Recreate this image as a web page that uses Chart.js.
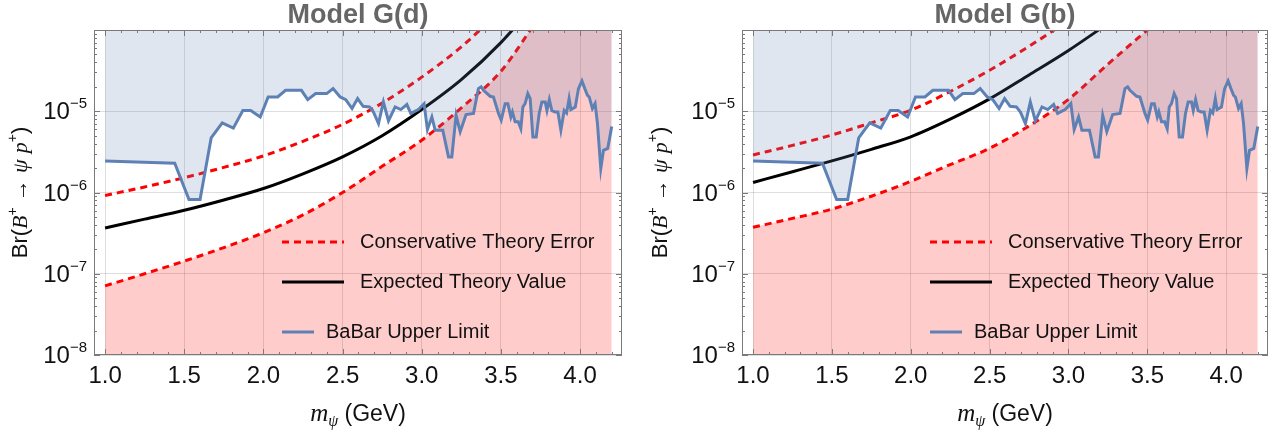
<!DOCTYPE html>
<html>
<head>
<meta charset="utf-8">
<title>Model G(d) / Model G(b)</title>
<script src="https://cdn.jsdelivr.net/npm/chart.js@4.4.1/dist/chart.umd.min.js"></script>
<style>
  body { margin: 0; background: #fff; }
  .painel { position: absolute; top: 0; }
</style>
</head>
<body>
<canvas id="graficoD" class="painel" width="640" height="432" style="left:0px"></canvas>
<canvas id="graficoB" class="painel" width="639" height="432" style="left:640px"></canvas>
<script>
// massas (GeV) onde as curvas teoricas foram lidas
var massas = [1.0, 1.25, 1.5, 1.75, 2.0, 2.25, 2.5, 2.75, 3.0, 3.25, 3.5, 3.75, 4.0, 4.2]

// Model G(d)
var esperado_d = [3.66e-7, 4.7e-7, 6.05e-7, 8.1e-7, 1.12e-6, 1.7e-6, 2.75e-6, 5.0e-6, 1.05e-5, 2.45e-5, 7.0e-5, 2.5e-4]
var erro_sup_d = [9.2e-7, 1.17e-6, 1.52e-6, 2.04e-6, 2.82e-6, 4.27e-6, 6.9e-6, 1.26e-5, 2.63e-5, 6.2e-5, 1.76e-4]
var erro_inf_d = [7.1e-8, 1.0e-7, 1.43e-7, 2.1e-7, 3.2e-7, 5.3e-7, 1.0e-6, 2.1e-6, 4.4e-6, 1.1e-5, 3.1e-5, 1.5e-4, 6e-4, 1.5e-3]

// Model G(b)
var esperado_b = [1.33e-6, 1.8e-6, 2.45e-6, 3.4e-6, 4.85e-6, 8.0e-6, 1.42e-5, 2.8e-5, 5.6e-5, 1.2e-4]
var erro_sup_b = [2.9e-6, 3.8e-6, 5.1e-6, 7.2e-6, 1.03e-5, 1.75e-5, 3.2e-5, 6.3e-5, 1.3e-4]
var erro_inf_b = [3.73e-7, 4.8e-7, 6.25e-7, 9.0e-7, 1.37e-6, 2.2e-6, 3.5e-6, 6.6e-6, 1.4e-5, 3.8e-5, 1.0e-4, 2.6e-4, 6e-4, 1.2e-3]

// limite superior do BaBar (igual nos dois paineis)
var babar_massa = [1.0, 1.44, 1.53, 1.60, 1.67, 1.74, 1.81, 1.87, 1.92, 1.98, 2.03, 2.09, 2.14, 2.24, 2.28, 2.33, 2.40, 2.44, 2.485, 2.52,
    2.56, 2.595, 2.63, 2.67, 2.695, 2.727, 2.758, 2.79, 2.832, 2.868, 2.906, 2.931, 2.979, 3.015, 3.036, 3.064, 3.085, 3.133, 3.169, 3.19,
    3.217, 3.243, 3.28, 3.327, 3.358, 3.375, 3.39, 3.432, 3.453, 3.485, 3.502, 3.527, 3.544, 3.563, 3.573, 3.59, 3.61, 3.626, 3.639, 3.653,
    3.67, 3.685, 3.702, 3.723, 3.742, 3.759, 3.78, 3.791, 3.806, 3.822, 3.843, 3.86, 3.879, 3.9, 3.915, 3.931, 3.942, 3.97, 3.99, 4.012,
    4.03, 4.047, 4.058, 4.078, 4.095, 4.11, 4.131, 4.148, 4.175, 4.2]
var babar_limite = [2.45e-6, 2.29e-6, 8.2e-7, 8.2e-7, 4.7e-6, 7.2e-6, 6.2e-6, 1.02e-5, 1.02e-5, 8.5e-6, 1.5e-5, 1.5e-5, 1.81e-5, 1.81e-5, 1.39e-5, 1.65e-5, 1.65e-5, 1.9e-5, 1.5e-5, 1.39e-5,
    1.08e-5, 1.43e-5, 1.15e-5, 1.13e-5, 9.8e-6, 7.05e-6, 1.3e-5, 7.6e-6, 1.13e-5, 1.05e-5, 1.21e-5, 9.4e-6, 1.05e-5, 1.24e-5, 5.95e-6, 8.5e-6, 5.84e-6, 5.84e-6, 2.74e-6, 2.74e-6,
    8.9e-6, 5.6e-6, 9.1e-6, 9.4e-6, 1.9e-5, 2.0e-5, 1.81e-5, 1.53e-5, 1.5e-5, 9.4e-6, 7.8e-6, 1.24e-5, 1.24e-5, 8.5e-6, 9.8e-6, 7.4e-6, 7.4e-6, 6.1e-6, 1.13e-5, 1.24e-5,
    1.65e-5, 1.43e-5, 4.83e-6, 4.83e-6, 9.4e-6, 1.3e-5, 1.3e-5, 1.02e-5, 1.39e-5, 1.02e-5, 9.8e-6, 9.8e-6, 5.84e-6, 1.02e-5, 9.5e-6, 1.43e-5, 1.05e-5, 1.13e-5, 1.9e-5, 2.36e-5,
    1.9e-5, 1.57e-5, 1.5e-5, 1.08e-5, 1.24e-5, 7.05e-6, 1.97e-6, 3.31e-6, 3.48e-6, 6.5e-6]

// marcas dos eixos
var ticks_x = [1.0, 1.5, 2.0, 2.5, 3.0, 3.5, 4.0]
var decadas_y = [1e-8, 1e-7, 1e-6, 1e-5]

const SANS = '"Liberation Sans", Arial, sans-serif'
const SERIF = '"Liberation Serif", "Times New Roman", serif'
const COR_TEXTO = '#111111'

function pontos(xs, ys) {
    return ys.map(function(y, i) { return { x: xs[i], y: y } })
}

// escreve um texto em pedacos (italico, expoente, indice)
function escreverPartes(ctx, partes, x, y, alinhar) {
    var total = 0
    partes.forEach(function(p) { ctx.font = p.font; total += ctx.measureText(p.t).width })
    var cx = x
    if (alinhar == 'center') cx = x - total / 2
    if (alinhar == 'right') cx = x - total
    ctx.textAlign = 'left'
    ctx.textBaseline = 'alphabetic'
    partes.forEach(function(p) {
        ctx.font = p.font
        ctx.fillText(p.t, cx, y + (p.dy || 0))
        cx += ctx.measureText(p.t).width
    })
}

// moldura, marcas internas, rotulos do eixo y, titulos dos eixos e legenda
const moldura = {
    id: 'moldura',
    afterDraw(chart) {
        const ctx = chart.ctx
        const a = chart.chartArea
        const sx = chart.scales.x
        const sy = chart.scales.y
        ctx.save()
        ctx.strokeStyle = '#7a7a7a'
        ctx.lineWidth = 1
        ctx.strokeRect(a.left + 0.5, a.top + 0.5, a.right - a.left - 1, a.bottom - a.top - 1)

        ctx.beginPath()
        for (var v = 10; v <= 42; v++) {
            var px = Math.round(sx.getPixelForValue(v / 10)) + 0.5
            var len = v % 5 == 0 ? 6 : 3
            ctx.moveTo(px, a.bottom); ctx.lineTo(px, a.bottom - len)
            ctx.moveTo(px, a.top); ctx.lineTo(px, a.top + len)
        }
        for (var n = -8; n <= -5; n++) {
            for (var k = 1; k <= 9; k++) {
                var py = Math.round(sy.getPixelForValue(k * Math.pow(10, n))) + 0.5
                var len = k == 1 ? 6 : 3
                ctx.moveTo(a.left, py); ctx.lineTo(a.left + len, py)
                ctx.moveTo(a.right, py); ctx.lineTo(a.right - len, py)
            }
        }
        ctx.stroke()

        // rotulos 10^n
        ctx.fillStyle = COR_TEXTO
        decadas_y.forEach(function(v) {
            var py = sy.getPixelForValue(v)
            var expo = Math.round(Math.log10(v))
            escreverPartes(ctx, [
                { t: '10', font: '24px ' + SANS },
                { t: '\u2212' + Math.abs(expo), font: '15px ' + SANS, dy: -11 }
            ], a.left - 7, py + 8, 'right')
        })

        // titulo do eixo y
        ctx.save()
        ctx.translate(27, (a.top + a.bottom) / 2)
        ctx.rotate(-Math.PI / 2)
        escreverPartes(ctx, [
            { t: 'Br(', font: '22px ' + SANS },
            { t: 'B', font: 'italic 22px ' + SERIF },
            { t: '+', font: '14px ' + SANS, dy: -10 },
            { t: ' \u2192 ', font: '22px ' + SANS },
            { t: '\u03c8', font: 'italic 22px ' + SERIF },
            { t: ' ', font: '22px ' + SANS },
            { t: 'p', font: 'italic 22px ' + SERIF },
            { t: '+', font: '14px ' + SANS, dy: -10 },
            { t: ')', font: '22px ' + SANS }
        ], 0, 0, 'center')
        ctx.restore()

        // titulo do eixo x
        escreverPartes(ctx, [
            { t: 'm', font: 'italic 25px ' + SERIF },
            { t: '\u03c8', font: 'italic 16px ' + SERIF, dy: 5 },
            { t: ' (GeV)', font: '23px ' + SANS }
        ], (a.left + a.right) / 2, 421, 'center')

        // legenda dentro do grafico
        const ds = chart.data.datasets
        const itens = [
            { d: ds[1], y: 212, x0: 188, x1: 250, tx: 266 },
            { d: ds[2], y: 252, x0: 188, x1: 250, tx: 266 },
            { d: ds[0], y: 302, x0: 188, x1: 220, tx: 232 }
        ]
        itens.forEach(function(it) {
            ctx.beginPath()
            ctx.strokeStyle = it.d.borderColor
            ctx.lineWidth = it.d.borderWidth
            ctx.setLineDash(it.d.borderDash || [])
            ctx.moveTo(a.left + it.x0, a.top + it.y)
            ctx.lineTo(a.left + it.x1, a.top + it.y)
            ctx.stroke()
            ctx.setLineDash([])
            ctx.fillStyle = COR_TEXTO
            ctx.font = '20px ' + SANS
            ctx.textAlign = 'left'
            ctx.textBaseline = 'middle'
            ctx.fillText(it.d.label, a.left + it.tx, a.top + it.y)
        })
        ctx.restore()
    }
}

function criarGrafico(id, titulo, esperado, erro_sup, erro_inf, largura_y, margem_dir) {
    const ctx = document.getElementById(id).getContext('2d')
    return new Chart(ctx, {
        type: 'line',
        data: {
            datasets: [{
                label: 'BaBar Upper Limit',
                data: pontos(babar_massa, babar_limite),
                borderColor: '#5e81b5',
                borderWidth: 3,
                backgroundColor: 'rgba(94, 129, 181, 0.2)',
                fill: 'end',
                pointRadius: 0,
                tension: 0
            }, {
                label: 'Conservative Theory Error',
                data: pontos(massas, erro_sup),
                borderColor: '#ff0000',
                borderWidth: 3,
                borderDash: [7, 5],
                fill: false,
                pointRadius: 0,
                cubicInterpolationMode: 'monotone'
            }, {
                label: 'Expected Theory Value',
                data: pontos(massas, esperado),
                borderColor: '#000000',
                borderWidth: 3,
                fill: false,
                pointRadius: 0,
                cubicInterpolationMode: 'monotone'
            }, {
                label: 'Conservative Theory Error',
                data: pontos(massas, erro_inf),
                borderColor: '#ff0000',
                borderWidth: 3,
                borderDash: [7, 5],
                backgroundColor: 'rgba(255, 0, 0, 0.2)',
                fill: 'start',
                pointRadius: 0,
                cubicInterpolationMode: 'monotone'
            }]
        },
        options: {
            responsive: false,
            animation: false,
            layout: { padding: { top: 0, right: margem_dir, bottom: 0, left: 0 } },
            plugins: {
                legend: { display: false },
                tooltip: { enabled: false },
                title: {
                    display: true,
                    text: titulo,
                    color: '#666666',
                    fullSize: false,
                    font: { family: SANS, size: 27, weight: 'bold', lineHeight: 1.0 },
                    padding: { top: 2, bottom: 1 }
                }
            },
            scales: {
                x: {
                    type: 'linear',
                    min: 0.93,
                    max: 4.265,
                    afterBuildTicks: function(scale) {
                        scale.ticks = ticks_x.map(function(v) { return { value: v } })
                    },
                    afterFit: function(scale) { scale.height = 77 },
                    ticks: {
                        autoSkip: false,
                        maxRotation: 0,
                        padding: 7,
                        color: COR_TEXTO,
                        font: { family: SANS, size: 24 },
                        callback: function(v) { return v.toFixed(1) }
                    },
                    grid: { color: 'rgba(0, 0, 0, 0.13)', drawTicks: false },
                    border: { display: false }
                },
                y: {
                    type: 'logarithmic',
                    min: 1e-8,
                    max: 1e-4,
                    afterBuildTicks: function(scale) {
                        scale.ticks = decadas_y.map(function(v) { return { value: v } })
                    },
                    afterFit: function(scale) { scale.width = largura_y },
                    ticks: { display: false },
                    grid: { color: 'rgba(0, 0, 0, 0.13)', drawTicks: false },
                    border: { display: false }
                }
            }
        },
        plugins: [moldura]
    })
}

var grafico_d = criarGrafico('graficoD', 'Model G(d)', esperado_d, erro_sup_d, erro_inf_d, 94, 18)
var grafico_b = criarGrafico('graficoB', 'Model G(b)', esperado_b, erro_sup_b, erro_inf_b, 102, 11)
</script>
</body>
</html>
